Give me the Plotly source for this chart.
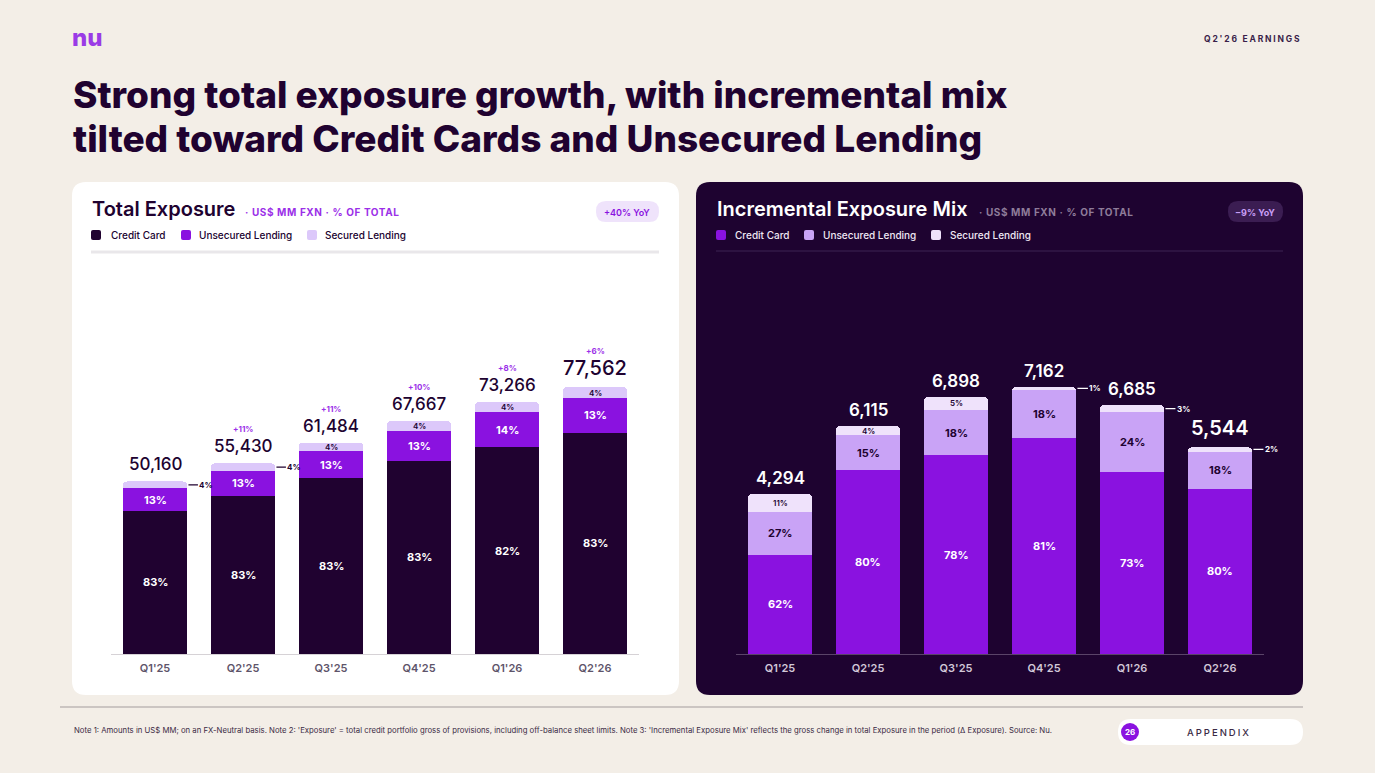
import plotly.graph_objects as go

W, H = 1375, 773

quarters = ["Q1'25", "Q2'25", "Q3'25", "Q4'25", "Q1'26", "Q2'26"]
segments = ["Credit Card", "Unsecured Lending", "Secured Lending"]

# Total Exposure, US$ MM FXN, and its mix (% of total)
total_exposure = [50160, 55430, 61484, 67667, 73266, 77562]
total_cc_pct = [83, 83, 83, 83, 82, 83]
total_unsec_pct = [13, 13, 13, 13, 14, 13]
total_sec_pct = [4, 4, 4, 4, 4, 4]
total_growth = ["", "+11%", "+11%", "+10%", "+8%", "+6%"]
total_sec_outside = [True, True, False, False, False, False]

# Incremental Exposure Mix, US$ MM FXN, and its mix (% of total)
incr_exposure = [4294, 6115, 6898, 7162, 6685, 5544]
incr_cc_pct = [62, 80, 78, 81, 73, 80]
incr_unsec_pct = [27, 15, 18, 18, 24, 18]
incr_sec_pct = [11, 4, 5, 1, 3, 2]
incr_sec_outside = [False, False, False, True, True, True]

FONT = "Inter"
PAGE_BG = "#f3eee7"
INK = "#200230"
PURPLE = "#8a12e0"
DARK_CARD = "#1e0330"

LEFT_COLORS = ["#200230", PURPLE, "#dcc8fa"]
RIGHT_COLORS = [PURPLE, "#c9a3f6", "#efe2fb"]


def px(x):
    return x / W


def py(y):
    return 1 - y / H


def rounded_rect(x0, y0, x1, y1, r):
    """SVG path (paper coords) for a rounded rectangle given in pixels."""
    pts = [
        f"M{px(x0 + r)},{py(y0)}",
        f"L{px(x1 - r)},{py(y0)}",
        f"Q{px(x1)},{py(y0)} {px(x1)},{py(y0 + r)}",
        f"L{px(x1)},{py(y1 - r)}",
        f"Q{px(x1)},{py(y1)} {px(x1 - r)},{py(y1)}",
        f"L{px(x0 + r)},{py(y1)}",
        f"Q{px(x0)},{py(y1)} {px(x0)},{py(y1 - r)}",
        f"L{px(x0)},{py(y0 + r)}",
        f"Q{px(x0)},{py(y0)} {px(x0 + r)},{py(y0)}",
        "Z",
    ]
    return " ".join(pts)


def box(x0, y0, x1, y1, r, color, layer="below"):
    return dict(type="path", xref="paper", yref="paper", path=rounded_rect(x0, y0, x1, y1, r),
                fillcolor=color, line_width=0, layer=layer)


def split(totals, *pcts):
    out = []
    for p in pcts:
        vals = []
        for i, t in enumerate(totals):
            s = sum(pp[i] for pp in pcts)
            vals.append(t * p[i] / s)
        out.append(vals)
    return out


fig = go.Figure()

left_vals = split(total_exposure, total_cc_pct, total_unsec_pct, total_sec_pct)
right_vals = split(incr_exposure, incr_cc_pct, incr_unsec_pct, incr_sec_pct)

for name, vals, color in zip(segments, left_vals, LEFT_COLORS):
    fig.add_trace(go.Bar(x=quarters, y=vals, name=name, marker=dict(color=color, line=dict(width=0)),
                         xaxis="x", yaxis="y", showlegend=False, hoverinfo="skip"))
for name, vals, color in zip(segments, right_vals, RIGHT_COLORS):
    fig.add_trace(go.Bar(x=quarters, y=vals, name=name, marker=dict(color=color, line=dict(width=0)),
                         xaxis="x2", yaxis="y2", showlegend=False, hoverinfo="skip"))

ann = []


def label(xref, yref, x, y, text, size, color, weight=700, yshift=0):
    ann.append(dict(xref=xref, yref=yref, x=x, y=y, text=text, showarrow=False, yshift=yshift,
                    font=dict(family=FONT, size=size, color=color, weight=weight)))


def side_label(xref, yref, i, y, text, color):
    ann.append(dict(xref=xref, yref=yref, x=i + 0.38, y=y, text=text, showarrow=True, arrowhead=0,
                    arrowwidth=1.2, arrowcolor=color, ax=18, ay=0, standoff=0,
                    font=dict(family=FONT, size=8, color=color, weight=700)))


# left chart labels
for i, q in enumerate(quarters):
    cc, un, se = left_vals[0][i], left_vals[1][i], left_vals[2][i]
    label("x", "y", q, cc / 2, f"{total_cc_pct[i]}%", 11, "white")
    label("x", "y", q, cc + un / 2, f"{total_unsec_pct[i]}%", 11, "white")
    if total_sec_outside[i]:
        side_label("x", "y", i, cc + un + se / 2, f"{total_sec_pct[i]}%", INK)
    else:
        label("x", "y", q, cc + un + se / 2, f"{total_sec_pct[i]}%", 8, INK, 600)
    big = i == len(quarters) - 1
    label("x", "y", q, total_exposure[i], f"{total_exposure[i]:,}", 20 if big else 17, INK, 500,
          yshift=19 if big else 17)
    if total_growth[i]:
        label("x", "y", q, total_exposure[i], total_growth[i], 8, "#9b30e8", 700, yshift=36 if big else 34)

# right chart labels
for i, q in enumerate(quarters):
    cc, un, se = right_vals[0][i], right_vals[1][i], right_vals[2][i]
    label("x2", "y2", q, cc / 2, f"{incr_cc_pct[i]}%", 11, "white")
    label("x2", "y2", q, cc + un / 2, f"{incr_unsec_pct[i]}%", 11, INK)
    if incr_sec_outside[i]:
        side_label("x2", "y2", i, cc + un + se / 2, f"{incr_sec_pct[i]}%", "white")
    else:
        label("x2", "y2", q, cc + un + se / 2, f"{incr_sec_pct[i]}%", 8, INK, 600)
    big = i == len(quarters) - 1
    label("x2", "y2", q, incr_exposure[i], f"{incr_exposure[i]:,}", 20 if big else 17, "white", 600,
          yshift=19 if big else 16)


def page_text(x, y, text, size, color, weight=400, xanchor="left", family=FONT):
    ann.append(dict(xref="paper", yref="paper", x=px(x), y=py(y), text=text, showarrow=False,
                    xanchor=xanchor, yanchor="middle", align="left",
                    font=dict(family=family, size=size, color=color, weight=weight)))


shapes = [
    box(72, 182, 679, 695, 14, "white"),
    box(696, 182, 1303, 695, 14, DARK_CARD),
    dict(type="line", xref="paper", yref="paper", x0=px(91), x1=px(659), y0=py(252), y1=py(252),
         line=dict(color="#e9e7ea", width=3), layer="below"),
    dict(type="line", xref="paper", yref="paper", x0=px(716), x1=px(1283), y0=py(251), y1=py(251),
         line=dict(color="#3d2552", width=1), layer="below"),
    dict(type="line", xref="paper", yref="paper", x0=px(60), x1=px(1303), y0=py(707), y1=py(707),
         line=dict(color="#cbc5c2", width=2), layer="below"),
    # badges
    box(596, 201, 659, 222, 10, "#efe3fb"),
    box(1228, 201, 1283, 222, 10, "#3b1d52"),
    # appendix pill
    box(1118, 719, 1303, 745, 13, "white"),
    dict(type="circle", xref="paper", yref="paper", x0=px(1121), x1=px(1139), y0=py(723), y1=py(741),
         fillcolor=PURPLE, line_width=0, layer="below"),
]

# legends
legend_left = [(91, 109), (181, 197), (307, 323)]
legend_right = [(716, 733), (804, 821), (931, 948)]
for (sx, tx), name, color in zip(legend_left, segments, LEFT_COLORS):
    shapes.append(box(sx, 230, sx + 10, 240, 2, color, "above"))
    page_text(tx, 235, name, 10, INK, 500)
for (sx, tx), name, color in zip(legend_right, segments, RIGHT_COLORS):
    shapes.append(box(sx, 230, sx + 10, 240, 2, color, "above"))
    page_text(tx, 235, name, 10, "#efe8f4", 500)

# header
page_text(70, 38, "nu", 24, "#9a3be6", 800)
page_text(1303, 39, "<span style='letter-spacing:1.8px'>Q2'26 EARNINGS</span>", 8.5, "#3a1f4a", 700, xanchor="right")
page_text(71, 95, "Strong total exposure growth, with incremental mix", 37, INK, 800)
page_text(71, 139, "tilted toward Credit Cards and Unsecured Lending", 37, INK, 800)

# card headers
page_text(90, 209, "Total Exposure", 20, INK, 600)
page_text(243, 212, "<span style='letter-spacing:0.6px'>· US$ MM FXN · % OF TOTAL</span>", 10, "#9b30e8", 700)
page_text(627, 212, "+40% YoY", 9, PURPLE, 600, xanchor="center")
page_text(715, 209, "Incremental Exposure Mix", 20, "white", 600)
page_text(977, 212, "<span style='letter-spacing:0.6px'>· US$ MM FXN · % OF TOTAL</span>", 10, "#8e7c9a", 700)
page_text(1255, 212, "−9% YoY", 9, "#c89ff5", 700, xanchor="center")

# footer
page_text(72, 730, "Note 1: Amounts in US$ MM; on an FX-Neutral basis. Note 2: 'Exposure' = total credit portfolio gross of provisions, "
          "including off-balance sheet limits. Note 3: 'Incremental Exposure Mix' reflects the gross change in total Exposure "
          "in the period (Δ Exposure). Source: Nu.", 7.75, "#3a2a44", 400)
page_text(1130, 732, "26", 8, "white", 700, xanchor="center")
page_text(1219, 732, "<span style='letter-spacing:2px'>APPENDIX</span>", 9.5, "#3a2a44", 500, xanchor="center")

axis_common = dict(showgrid=False, zeroline=False, ticks="", fixedrange=True, range=[-0.5, 5.5],
                   autorange=False)
fig.update_layout(
    width=W, height=H,
    margin=dict(l=0, r=0, t=0, b=0),
    paper_bgcolor=PAGE_BG,
    plot_bgcolor="rgba(0,0,0,0)",
    barmode="stack",
    bargap=0.273,
    barcornerradius=4,
    showlegend=False,
    xaxis=dict(domain=[px(111), px(639)], anchor="y", showline=True, linecolor="#d6d2d6", linewidth=1,
               tickfont=dict(family=FONT, size=11, color="#5e546a", weight=600), ticklabelstandoff=4,
               **axis_common),
    yaxis=dict(domain=[py(654), py(262)], anchor="x", range=[0, 392 / 0.00344], autorange=False,
               visible=False, showgrid=False, zeroline=False, fixedrange=True),
    xaxis2=dict(domain=[px(736), px(1264)], anchor="y2", showline=True, linecolor="#5a4468", linewidth=1,
                tickfont=dict(family=FONT, size=11, color="#d2c8d8", weight=600), ticklabelstandoff=4,
                **axis_common),
    yaxis2=dict(domain=[py(654), py(262)], anchor="x2", range=[0, 392 / 0.03727], autorange=False,
                visible=False, showgrid=False, zeroline=False, fixedrange=True),
    shapes=shapes,
    annotations=ann,
)

# page has a default 8px body margin; drop it so the 1375x773 figure fills the window
fig.write_html("out.html", config={"displayModeBar": False},
               post_script="document.body.style.margin='0';")
